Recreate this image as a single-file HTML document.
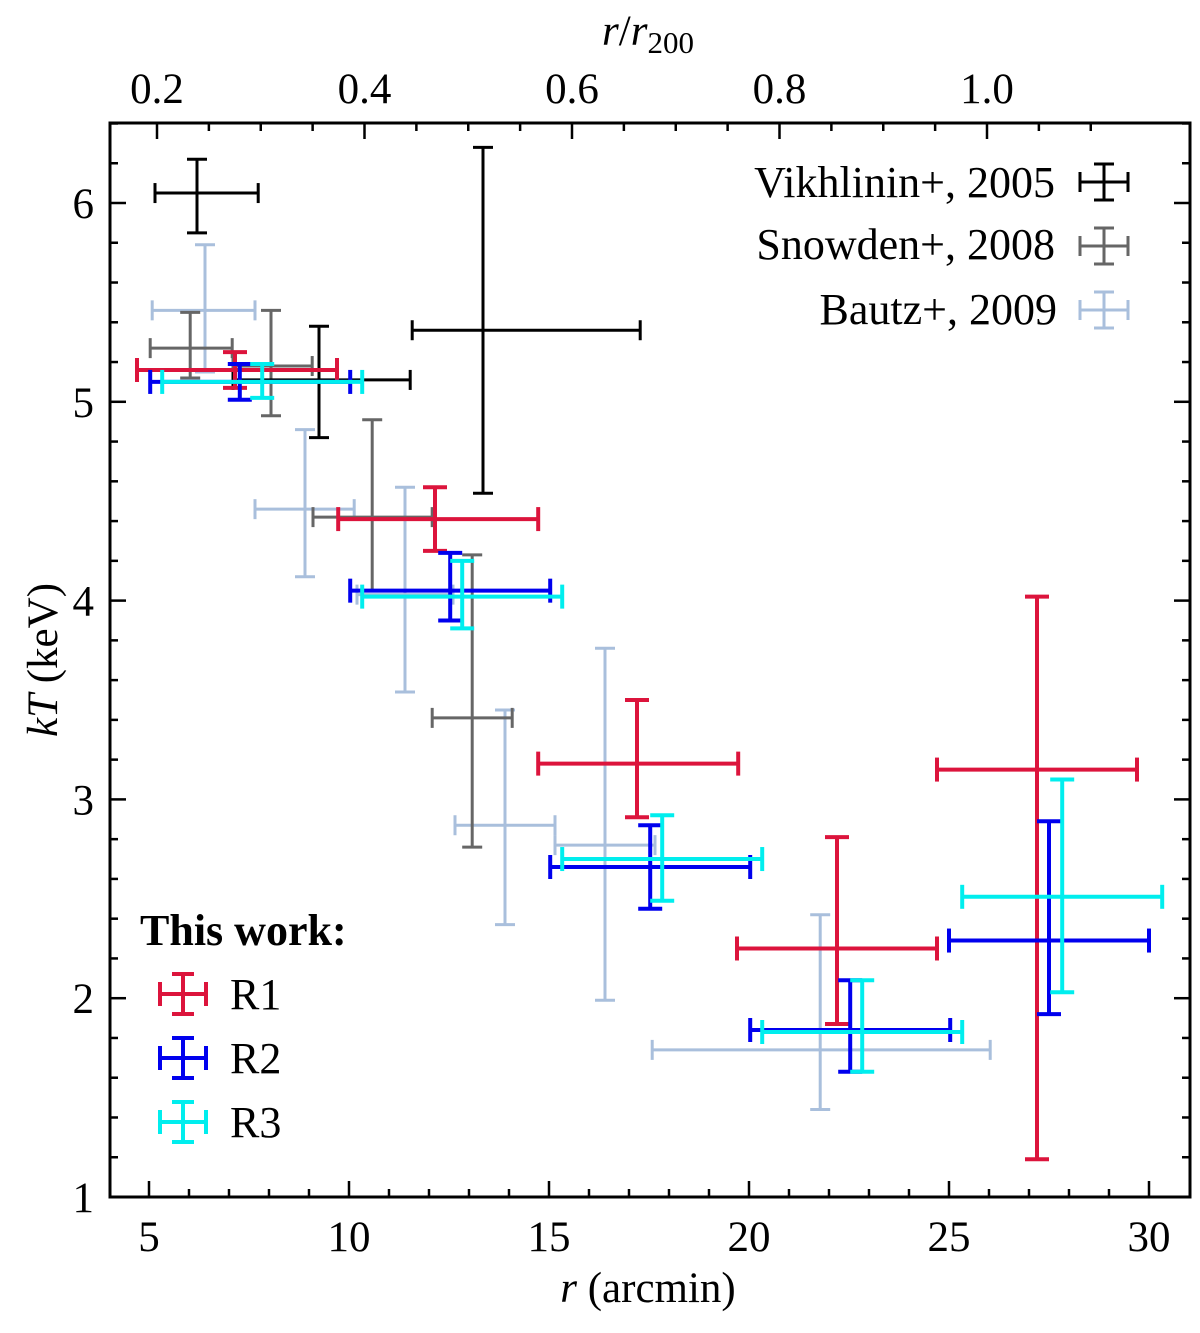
<!DOCTYPE html>
<html><head><meta charset="utf-8"><style>
body{margin:0;background:#fff}
svg text{font-family:"Liberation Serif",serif;fill:#000}
</style></head><body>
<svg id="chart" width="1200" height="1328" xmlns="http://www.w3.org/2000/svg"></svg>
<script>
const xTicks=[5,10,15,20,25,30];
const yTicks=[1,2,3,4,5,6];
const topTicks=[0.2,0.4,0.6,0.8,1.0];
// each point: [r, rlo, rhi, kT, kTlo, kThi]
const vikhlinin=[[6.2,5.15,7.73,6.05,5.85,6.22],[9.25,7.1,11.53,5.11,4.82,5.38],[13.35,11.58,17.28,5.36,4.54,6.28]];
const snowden=[[6.03,5.03,7.08,5.27,5.12,5.45],[8.05,7.1,9.08,5.18,4.93,5.46],[10.58,9.1,12.08,4.42,4.05,4.91],[13.08,12.08,14.08,3.41,2.76,4.23]];
const bautz=[[6.4,5.08,7.65,5.46,5.15,5.79],[8.9,7.65,10.13,4.46,4.12,4.86],[11.4,10.2,12.6,4.03,3.54,4.57],[13.9,12.65,15.15,2.87,2.37,3.45],[16.4,15.15,17.65,2.77,1.99,3.76],[21.78,17.58,26.03,1.74,1.44,2.42]];
const r1=[[7.15,4.7,9.7,5.16,5.07,5.25],[12.15,9.73,14.73,4.41,4.25,4.57],[17.2,14.73,19.73,3.18,2.91,3.5],[22.2,19.7,24.7,2.25,1.87,2.81],[27.2,24.7,29.7,3.15,1.19,4.02]];
const r2=[[7.27,5.03,10.03,5.1,5.01,5.19],[12.53,10.03,15.03,4.05,3.9,4.24],[17.53,15.03,20.03,2.66,2.45,2.87],[22.53,20.03,25.03,1.84,1.63,2.09],[27.5,25.0,30.0,2.29,1.92,2.89]];
const r3=[[7.83,5.33,10.33,5.1,5.02,5.19],[12.83,10.33,15.33,4.02,3.86,4.2],[17.83,15.33,20.33,2.7,2.49,2.92],[22.83,20.33,25.33,1.83,1.63,2.09],[27.83,25.33,30.33,2.51,2.03,3.1]];

const L=110,R=1190,T=123,B=1197;
const X=r=>149+(r-5)*40;
const Y=v=>1197-(v-1)*198.8;
const XT=q=>157+(q-0.2)*1037.5;
const svg=document.getElementById('chart');
const NS='http://www.w3.org/2000/svg';
function el(tag,attrs,parent){const e=document.createElementNS(NS,tag);for(const k in attrs)e.setAttribute(k,attrs[k]);(parent||svg).appendChild(e);return e;}
function ln(x1,y1,x2,y2,c,w,p){return el('line',{x1,y1,x2,y2,stroke:c,'stroke-width':w},p);}

const series=[
 {d:bautz,c:'#a9bfdc',w:3,cap:10,name:'bautz'},
 {d:snowden,c:'#666666',w:3,cap:10,name:'snowden'},
 {d:vikhlinin,c:'#000000',w:3,cap:10,name:'vikhlinin'},
 {d:r1,c:'#dc143c',w:4,cap:12,name:'r1'},
 {d:r2,c:'#0000ee',w:4,cap:12,name:'r2'},
 {d:r3,c:'#00eeee',w:4,cap:12,name:'r3'}];
series.forEach(s=>{
 const g=el('g',{});
 
 
 s.d.forEach((p,i)=>{
  const gp=el('g',{},g);
  
  
  const cx=X(p[0]),cy=Y(p[3]);
  ln(X(p[1]),cy,X(p[2]),cy,s.c,s.w,gp);
  ln(cx,Y(p[4]),cx,Y(p[5]),s.c,s.w,gp);
  ln(X(p[1]),cy-s.cap,X(p[1]),cy+s.cap,s.c,s.w,gp);
  ln(X(p[2]),cy-s.cap,X(p[2]),cy+s.cap,s.c,s.w,gp);
  ln(cx-s.cap,Y(p[4]),cx+s.cap,Y(p[4]),s.c,s.w,gp);
  ln(cx-s.cap,Y(p[5]),cx+s.cap,Y(p[5]),s.c,s.w,gp);
 });
});

const fr=el('rect',{x:L,y:T,width:R-L,height:B-T,fill:'none',stroke:'#000','stroke-width':3});


for(let r=5;r<=30;r++){const maj=r%5===0;ln(X(r),B,X(r),B-(maj?16:8),'#000',2.5);}
xTicks.forEach(t=>{const e=el('text',{x:X(t),y:1251,'font-size':43,'text-anchor':'middle'});e.textContent=t;
 
 });
for(let i=0;i<=18;i++){const q=0.2+i*0.05;const x=XT(q);if(x>R)break;const maj=i%4===0;ln(x,T,x,T+(maj?16:8),'#000',2.5);}
topTicks.forEach(t=>{const e=el('text',{x:XT(t),y:103,'font-size':43,'text-anchor':'middle'});e.textContent=t.toFixed(1);
 
 });
for(let i=0;i<=27;i++){const v=1+i*0.2;const y=Y(v);if(y<T)break;const maj=i%5===0;ln(L,y,L+(maj?16:8),y,'#000',2.5);ln(R,y,R-(maj?16:8),y,'#000',2.5);}
yTicks.forEach(t=>{const e=el('text',{x:94,y:Y(t)+15,'font-size':43,'text-anchor':'end'});e.textContent=t;
 
 });
</script>
<svg style="position:absolute;left:0;top:0" width="1200" height="1328" xmlns="http://www.w3.org/2000/svg">
<text x="648" y="1302" font-size="43" text-anchor="middle"><tspan font-style="italic">r</tspan> (arcmin)</text>
<text x="648" y="45" font-size="43" text-anchor="middle"><tspan font-style="italic">r</tspan>/<tspan font-style="italic">r</tspan><tspan font-size="31" dy="8">200</tspan></text>
<text transform="translate(57,660) rotate(-90)" font-size="43" text-anchor="middle"><tspan font-style="italic">kT</tspan> (keV)</text>
<g font-size="44">
<text x="1055" y="197" text-anchor="end">Vikhlinin+, 2005</text>
<text x="1055" y="259" text-anchor="end">Snowden+, 2008</text>
<text x="1057" y="324" text-anchor="end">Bautz+, 2009</text>
<g stroke="#000" stroke-width="3"><line x1="1080" y1="182" x2="1128" y2="182"/><line x1="1104" y1="164" x2="1104" y2="200"/><line x1="1080" y1="172" x2="1080" y2="192"/><line x1="1128" y1="172" x2="1128" y2="192"/><line x1="1094" y1="164" x2="1114" y2="164"/><line x1="1094" y1="200" x2="1114" y2="200"/></g>
<g stroke="#666" stroke-width="3"><line x1="1080" y1="246" x2="1128" y2="246"/><line x1="1104" y1="228" x2="1104" y2="264"/><line x1="1080" y1="236" x2="1080" y2="256"/><line x1="1128" y1="236" x2="1128" y2="256"/><line x1="1094" y1="228" x2="1114" y2="228"/><line x1="1094" y1="264" x2="1114" y2="264"/></g>
<g stroke="#a9bfdc" stroke-width="3"><line x1="1080" y1="310" x2="1128" y2="310"/><line x1="1104" y1="292" x2="1104" y2="328"/><line x1="1080" y1="300" x2="1080" y2="320"/><line x1="1128" y1="300" x2="1128" y2="320"/><line x1="1094" y1="292" x2="1114" y2="292"/><line x1="1094" y1="328" x2="1114" y2="328"/></g>
</g>
<g font-size="44">
<text x="140" y="945" font-weight="bold">This work:</text>
<text x="230" y="1009">R1</text><text x="230" y="1073">R2</text><text x="230" y="1137">R3</text>
<g stroke="#dc143c" stroke-width="4"><line x1="160" y1="994" x2="206" y2="994"/><line x1="183" y1="974" x2="183" y2="1014"/><line x1="160" y1="982" x2="160" y2="1006"/><line x1="206" y1="982" x2="206" y2="1006"/><line x1="172" y1="974" x2="194" y2="974"/><line x1="172" y1="1014" x2="194" y2="1014"/></g>
<g stroke="#0000ee" stroke-width="4"><line x1="160" y1="1058" x2="206" y2="1058"/><line x1="183" y1="1038" x2="183" y2="1078"/><line x1="160" y1="1046" x2="160" y2="1070"/><line x1="206" y1="1046" x2="206" y2="1070"/><line x1="172" y1="1038" x2="194" y2="1038"/><line x1="172" y1="1078" x2="194" y2="1078"/></g>
<g stroke="#00eeee" stroke-width="4"><line x1="160" y1="1122" x2="206" y2="1122"/><line x1="183" y1="1102" x2="183" y2="1142"/><line x1="160" y1="1110" x2="160" y2="1134"/><line x1="206" y1="1110" x2="206" y2="1134"/><line x1="172" y1="1102" x2="194" y2="1102"/><line x1="172" y1="1142" x2="194" y2="1142"/></g>
</g>
</svg>
</body></html>
